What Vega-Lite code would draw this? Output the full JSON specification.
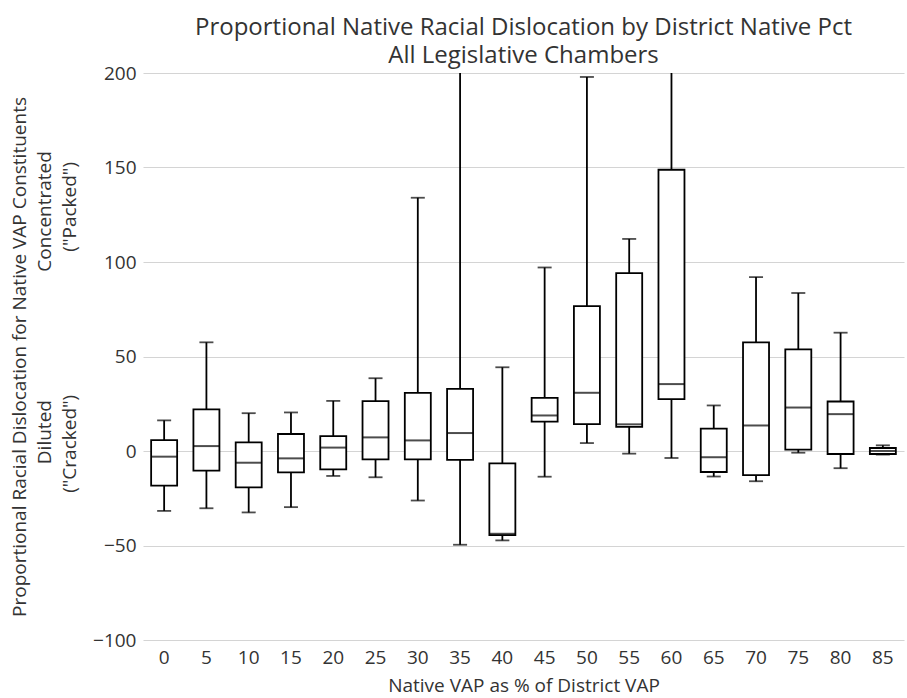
{
  "$schema": "https://vega.github.io/schema/vega-lite/v6.json",
  "autosize": "none",
  "width": 761,
  "height": 567,
  "padding": {"left": 143, "top": 73, "right": 3, "bottom": 58},
  "background": "white",
  "title": {
    "text": ["Proportional Native Racial Dislocation by District Native Pct", "All Legislative Chambers"],
    "anchor": "middle",
    "fontSize": 24,
    "fontWeight": "normal",
    "color": "#333333",
    "lineHeight": 28,
    "offset": -4
  },
  "config": {
    "font": "Open Sans, sans-serif",
    "view": {"stroke": null}
  },
  "data": {
    "values": [
      {"x": "0", "lo": -31.7, "q1": -18.3, "med": -3.0, "q3": 5.8, "hi": 16.2},
      {"x": "5", "lo": -30.3, "q1": -10.4, "med": 2.6, "q3": 22.0, "hi": 57.5},
      {"x": "10", "lo": -32.5, "q1": -19.2, "med": -6.2, "q3": 4.6, "hi": 20.0},
      {"x": "15", "lo": -29.7, "q1": -11.3, "med": -3.9, "q3": 9.0, "hi": 20.4},
      {"x": "20", "lo": -13.2, "q1": -9.7, "med": 1.8, "q3": 7.9, "hi": 26.5},
      {"x": "25", "lo": -13.9, "q1": -4.4, "med": 7.2, "q3": 26.4, "hi": 38.5},
      {"x": "30", "lo": -26.2, "q1": -4.4, "med": 5.6, "q3": 30.8, "hi": 134.0},
      {"x": "35", "lo": -49.6, "q1": -4.7, "med": 9.5, "q3": 32.9, "hi": 240.0},
      {"x": "40", "lo": -47.3, "q1": -44.5, "med": -43.8, "q3": -6.5, "hi": 44.3},
      {"x": "45", "lo": -13.6, "q1": 15.5, "med": 18.8, "q3": 28.1, "hi": 97.1},
      {"x": "50", "lo": 4.2, "q1": 14.2, "med": 30.8, "q3": 76.7, "hi": 197.9},
      {"x": "55", "lo": -1.4, "q1": 12.8, "med": 14.1, "q3": 94.1, "hi": 112.2},
      {"x": "60", "lo": -3.7, "q1": 27.4, "med": 35.4, "q3": 148.8, "hi": 260.0},
      {"x": "65", "lo": -13.5, "q1": -11.1, "med": -3.3, "q3": 11.8, "hi": 24.1},
      {"x": "70", "lo": -16.0, "q1": -12.8, "med": 13.5, "q3": 57.5, "hi": 92.0},
      {"x": "75", "lo": -0.9, "q1": 0.7, "med": 23.0, "q3": 53.8, "hi": 83.6},
      {"x": "80", "lo": -9.1, "q1": -1.6, "med": 19.5, "q3": 26.2, "hi": 62.6},
      {"x": "85", "lo": -1.9, "q1": -1.6, "med": 0.0, "q3": 1.6, "hi": 3.0}
    ]
  },
  "encoding": {
    "x": {
      "field": "x",
      "type": "ordinal",
      "sort": null,
      "scale": {"paddingInner": 0, "paddingOuter": 0},
      "axis": {
        "title": "Native VAP as % of District VAP",
        "titleFontSize": 19,
        "titleFontWeight": "normal",
        "titleColor": "#333333",
        "titlePadding": 9,
        "labelAngle": 0,
        "labelFontSize": 19,
        "labelColor": "#333333",
        "labelPadding": 8,
        "domain": false,
        "ticks": false,
        "grid": false
      }
    }
  },
  "layer": [
    {
      "mark": {"type": "rule", "color": "black", "strokeWidth": 1.8, "clip": true},
      "encoding": {
        "y": {
          "field": "lo",
          "type": "quantitative",
          "scale": {"domain": [-100, 200], "nice": false, "zero": false},
          "axis": {
            "title": [
              "Proportional Racial Dislocation for Native VAP Constituents",
              "\u200b\u00a0\u00a0\u00a0\u00a0\u00a0\u00a0\u00a0\u00a0\u00a0\u00a0\u00a0\u00a0\u00a0\u00a0\u00a0\u00a0\u00a0\u00a0\u00a0\u00a0Diluted\u00a0\u00a0\u00a0\u00a0\u00a0\u00a0\u00a0\u00a0\u00a0\u00a0\u00a0\u00a0\u00a0\u00a0\u00a0\u00a0\u00a0\u00a0\u00a0\u00a0\u00a0\u00a0\u00a0\u00a0\u00a0\u00a0Concentrated",
              "\u200b\u00a0\u00a0\u00a0\u00a0\u00a0\u00a0\u00a0\u00a0\u00a0\u00a0\u00a0\u00a0(\"Cracked\")\u00a0\u00a0\u00a0\u00a0\u00a0\u00a0\u00a0\u00a0\u00a0\u00a0\u00a0\u00a0\u00a0\u00a0\u00a0\u00a0\u00a0\u00a0\u00a0\u00a0\u00a0\u00a0\u00a0\u00a0\u00a0\u00a0\u00a0\u00a0\u00a0(\"Packed\")"
            ],
            "titleFontSize": 19,
            "titleFontWeight": "normal",
            "titleColor": "#333333",
            "titleLineHeight": 25,
            "titlePadding": 13,
            "values": [-100, -50, 0, 50, 100, 150, 200],
            "labelFontSize": 19,
            "labelColor": "#333333",
            "labelPadding": 7,
            "domain": false,
            "ticks": false,
            "grid": true,
            "gridColor": "#d4d4d4",
            "gridWidth": 1.2
          }
        },
        "y2": {"field": "hi"}
      }
    },
    {
      "mark": {"type": "bar", "fill": "white", "stroke": "black", "strokeWidth": 1.8, "size": 26},
      "encoding": {
        "y": {"field": "q1", "type": "quantitative"},
        "y2": {"field": "q3"}
      }
    },
    {
      "mark": {"type": "tick", "color": "black", "thickness": 2, "size": 26},
      "encoding": {"y": {"field": "med", "type": "quantitative"}}
    },
    {
      "mark": {"type": "tick", "color": "black", "thickness": 1.8, "size": 14, "clip": true},
      "encoding": {"y": {"field": "lo", "type": "quantitative"}}
    },
    {
      "mark": {"type": "tick", "color": "black", "thickness": 1.8, "size": 14, "clip": true},
      "encoding": {"y": {"field": "hi", "type": "quantitative"}}
    },
    {
      "mark": {"type": "rule", "color": "#9b1b1b", "strokeWidth": 1.5, "strokeDash": [7, 4]},
      "encoding": {"y": {"datum": 0}}
    }
  ]
}
